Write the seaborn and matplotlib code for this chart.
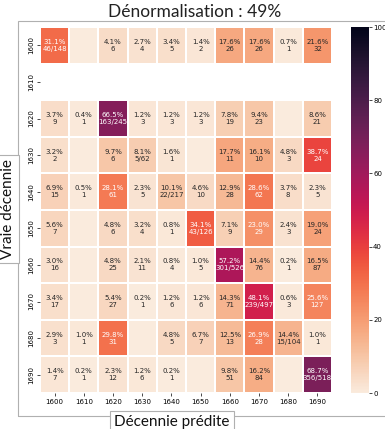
import numpy as np
import pandas as pd
import matplotlib
matplotlib.use("Agg")
import matplotlib.pyplot as plt
from matplotlib.patches import Rectangle
import seaborn as sns

decades = [1600, 1610, 1620, 1630, 1640, 1650, 1660, 1670, 1680, 1690]

# Confusion counts: rows = true decade, columns = predicted decade
row_1600 = [46, 0, 6, 4, 5, 2, 26, 26, 1, 32]
row_1610 = [0, 0, 0, 0, 0, 0, 0, 0, 0, 0]
row_1620 = [9, 1, 163, 3, 3, 3, 19, 23, 0, 21]
row_1630 = [2, 0, 6, 5, 1, 0, 11, 10, 3, 24]
row_1640 = [15, 1, 61, 5, 22, 10, 28, 62, 8, 5]
row_1650 = [7, 0, 6, 4, 1, 43, 9, 29, 3, 24]
row_1660 = [16, 0, 25, 11, 4, 5, 301, 76, 1, 87]
row_1670 = [17, 0, 27, 1, 6, 6, 71, 239, 3, 127]
row_1680 = [3, 1, 31, 0, 5, 7, 13, 28, 15, 1]
row_1690 = [7, 1, 12, 6, 1, 0, 51, 84, 0, 356]

title = "Dénormalisation : 49%"
xlabel = "Décennie prédite"
ylabel = "Vraie décennie"

counts = np.array([row_1600, row_1610, row_1620, row_1630, row_1640,
                   row_1650, row_1660, row_1670, row_1680, row_1690])
totals = counts.sum(axis=1)
with np.errstate(invalid="ignore", divide="ignore"):
    pct = np.where(totals[:, None] > 0, 100 * counts / totals[:, None], np.nan)

labels = np.empty(counts.shape, dtype=object)
for i in range(counts.shape[0]):
    for j in range(counts.shape[1]):
        c = counts[i, j]
        if c == 0:
            labels[i, j] = ""
        elif i == j:
            labels[i, j] = f"{pct[i, j]:.1f}%\n{c}/{totals[i]}"
        else:
            labels[i, j] = f"{pct[i, j]:.1f}%\n{c}"

df = pd.DataFrame(pct, index=decades, columns=decades)

W, H = 385, 429
fig = plt.figure(figsize=(W / 100, H / 100), dpi=100)
ax = fig.add_axes([40 / W, 1 - 393 / H, 292 / W, 366 / H])
cax = fig.add_axes([351 / W, 1 - 393 / H, 18 / W, 366 / H])

sns.heatmap(df, ax=ax, cbar_ax=cax, cmap="rocket_r", vmin=0, vmax=100,
            annot=labels, fmt="", annot_kws={"fontsize": 5},
            linewidths=0.15, linecolor="white")

ax.tick_params(axis="both", labelsize=5, length=2, width=0.5, pad=2)
ax.set_xticklabels(decades, rotation=0)
ax.set_yticklabels(decades, rotation=90, va="center")
ax.set_xlabel("")
ax.set_ylabel("")

cax.set_yticks([0, 20, 40, 60, 80, 100])
cax.tick_params(labelsize=5, length=2, width=0.5, pad=1)

# Outer frame around the panel
frame_color = "#b0b0b0"
fig.patches.append(Rectangle((18 / W, 1 - 416 / H), 1.1, (416 - 21) / H,
                             transform=fig.transFigure, fill=False,
                             edgecolor=frame_color, linewidth=0.8, zorder=0))

box = dict(boxstyle="square,pad=0.25", facecolor="white",
           edgecolor=frame_color, linewidth=0.8)
fig.text(195 / W, 1 - 12 / H, title, ha="center", va="center",
         fontsize=12.5, family="Lato", color="#222222")
fig.text(172 / W, 1 - 422 / H, xlabel, ha="center", va="center",
         fontsize=11, family="Lato", color="#111111", bbox=box, zorder=3)
fig.text(8 / W, 1 - 209 / H, ylabel, ha="center", va="center",
         rotation=90, fontsize=11, family="Lato", color="#111111",
         bbox=box, zorder=3)

fig.savefig("out.png", dpi=100, facecolor="white")
